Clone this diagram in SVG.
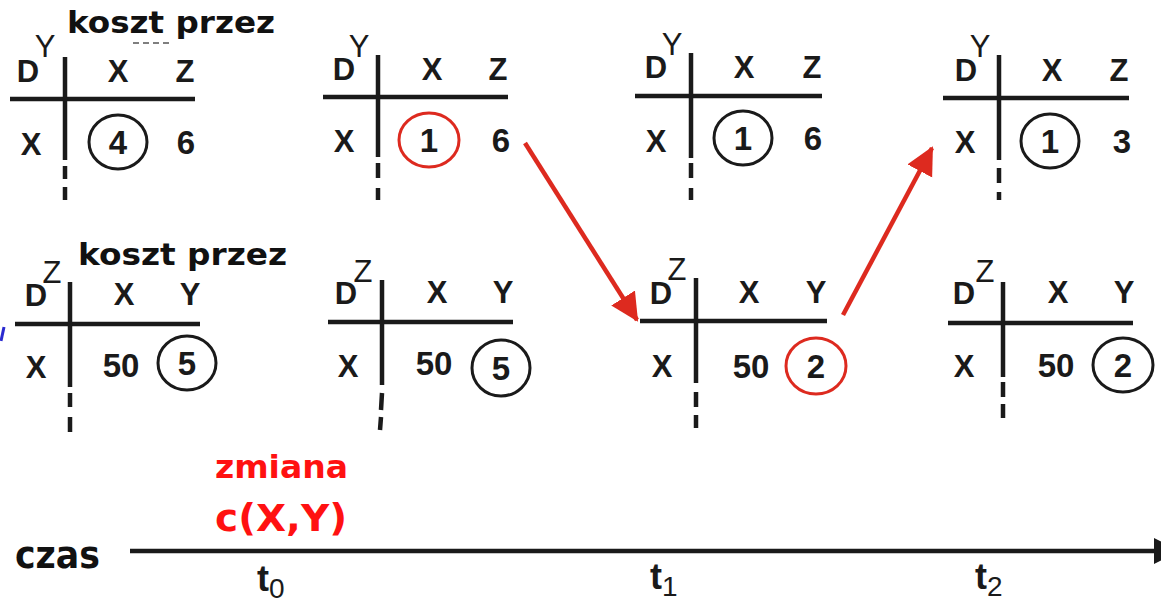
<svg xmlns="http://www.w3.org/2000/svg" width="1161" height="604" viewBox="0 0 1161 604">
<style>
.t{font-family:"Liberation Sans",Arial,sans-serif;font-weight:bold;font-size:31px;fill:#1a1a1a;text-anchor:middle}
.sup{font-family:"Liberation Sans",Arial,sans-serif;font-size:31px;fill:#1a1a1a;text-anchor:middle}
.n{font-family:"Liberation Sans",Arial,sans-serif;font-weight:bold;font-size:33px;fill:#1a1a1a;text-anchor:middle}
.c{font-family:"DejaVu Sans","Liberation Sans",sans-serif;font-weight:bold;fill:#111}
.r{fill:#ff1111}
.ln{stroke:#1a1a1a;stroke-width:4.5;fill:none}
.ds{stroke:#1a1a1a;stroke-width:4.5;fill:none}
.ci{fill:none;stroke:#1a1a1a;stroke-width:3}
.cr{fill:none;stroke:#dd2a1f;stroke-width:3}
.ar{stroke:#dd2a1f;stroke-width:4.5;fill:none}
.tt{font-family:"Liberation Sans",Arial,sans-serif;font-weight:bold;font-size:36px;fill:#1a1a1a}
.sb{font-weight:normal;font-size:28px}
</style>
<defs>
<marker id="rh" markerUnits="userSpaceOnUse" markerWidth="30" markerHeight="30" refX="26" refY="14" orient="auto">
<path d="M0,0 L28,14 L0,28 Z" fill="#dd2a1f"/>
</marker>
</defs>

<g id="table-y-t0">
<text class="c" x="67" y="33" font-size="31" textLength="208" lengthAdjust="spacingAndGlyphs">koszt przez</text>
<line x1="133" y1="43" x2="172" y2="43" stroke="#555" stroke-width="1.5" stroke-dasharray="6 4"/>
<text class="t" x="28" y="82">D</text><text class="sup" x="45" y="57">Y</text>
<line class="ln" x1="10" y1="99" x2="195" y2="99"/>
<path class="ds" d="M65,57 V160 M65,166 V179 M65,187 V200"/>
<text class="t" x="118" y="82">X</text><text class="t" x="185" y="82">Z</text>
<text class="t" x="31" y="155">X</text>
<ellipse class="ci" cx="118" cy="142" rx="29" ry="27"/>
<text class="n" x="118" y="154">4</text><text class="n" x="186" y="154">6</text>
</g>

<g id="table-y-a">
<text class="t" x="344" y="80">D</text><text class="sup" x="359" y="57">Y</text>
<line class="ln" x1="323" y1="97" x2="508" y2="97"/>
<path class="ds" d="M378,55 V157 M378,163 V178 M378,188 V200"/>
<text class="t" x="432" y="80">X</text><text class="t" x="498" y="80">Z</text>
<text class="t" x="344" y="152">X</text>
<ellipse class="cr" cx="429" cy="140" rx="30" ry="27"/>
<text class="n" x="429" y="152">1</text><text class="n" x="501" y="152">6</text>
</g>

<g id="table-y-t1">
<text class="t" x="656" y="78">D</text><text class="sup" x="672" y="55">Y</text>
<line class="ln" x1="635" y1="96" x2="822" y2="96"/>
<path class="ds" d="M691,53 V158 M691,163 V178 M691,188 V200"/>
<text class="t" x="744" y="78">X</text><text class="t" x="812" y="78">Z</text>
<text class="t" x="656" y="152">X</text>
<ellipse class="ci" cx="743" cy="138" rx="29" ry="27"/>
<text class="n" x="743" y="150">1</text><text class="n" x="813" y="150">6</text>
</g>

<g id="table-y-t2">
<text class="t" x="966" y="81">D</text><text class="sup" x="980" y="57">Y</text>
<line class="ln" x1="943" y1="98" x2="1129" y2="98"/>
<path class="ds" d="M999,55 V160 M999,168 V183 M999,192 V200"/>
<text class="t" x="1052" y="81">X</text><text class="t" x="1119" y="81">Z</text>
<text class="t" x="965" y="153">X</text>
<ellipse class="ci" cx="1050" cy="141" rx="29" ry="27"/>
<text class="n" x="1050" y="153">1</text><text class="n" x="1122" y="153">3</text>
</g>

<g id="table-z-t0">
<text class="c" x="78" y="265" font-size="31" textLength="209" lengthAdjust="spacingAndGlyphs">koszt przez</text>
<text class="t" x="36" y="306">D</text><text class="sup" x="52" y="283">Z</text>
<line class="ln" x1="15" y1="324" x2="200" y2="324"/>
<path class="ds" d="M70,282 V387 M70,393 V407 M70,417 V432"/>
<text class="t" x="124" y="305">X</text><text class="t" x="190" y="305">Y</text>
<text class="t" x="36" y="378">X</text>
<text class="n" x="121" y="377">50</text>
<ellipse class="ci" cx="187" cy="363" rx="29" ry="27"/>
<text class="n" x="187" y="375">5</text>
</g>

<g id="table-z-a">
<text class="t" x="346" y="304">D</text><text class="sup" x="363" y="282">Z</text>
<line class="ln" x1="328" y1="322" x2="513" y2="322"/>
<path class="ds" d="M382,280 V385 M382,393 L381,410 M381,417 L380,430"/>
<text class="t" x="437" y="303">X</text><text class="t" x="503" y="303">Y</text>
<text class="t" x="348" y="377">X</text>
<text class="n" x="434" y="375">50</text>
<ellipse class="ci" cx="501" cy="368" rx="29" ry="28"/>
<text class="n" x="501" y="380">5</text>
</g>

<g id="table-z-t1">
<text class="t" x="661" y="304">D</text><text class="sup" x="677" y="280">Z</text>
<line class="ln" x1="640" y1="321" x2="827" y2="321"/>
<path class="ds" d="M696,278 V383 M696,392 V407 M696,415 V428"/>
<text class="t" x="749" y="303">X</text><text class="t" x="816" y="303">Y</text>
<text class="t" x="662" y="377">X</text>
<text class="n" x="751" y="378">50</text>
<ellipse class="cr" cx="816" cy="366" rx="30" ry="28"/>
<text class="n" x="816" y="378">2</text>
</g>

<g id="table-z-t2">
<text class="t" x="964" y="304">D</text><text class="sup" x="985" y="282">Z</text>
<line class="ln" x1="948" y1="323" x2="1133" y2="323"/>
<path class="ds" d="M1003,282 V377 M1003,382 V397 M1003,404 V418"/>
<text class="t" x="1058" y="303">X</text><text class="t" x="1124" y="303">Y</text>
<text class="t" x="964" y="377">X</text>
<text class="n" x="1056" y="377">50</text>
<ellipse class="ci" cx="1123" cy="365" rx="30" ry="27"/>
<text class="n" x="1123" y="377">2</text>
</g>

<g id="connectors">
<line class="ar" x1="525" y1="143" x2="637" y2="320" marker-end="url(#rh)"/>
<line class="ar" x1="843" y1="315" x2="932" y2="148" marker-end="url(#rh)"/>
</g>

<g id="timeline">
<text class="c" x="15" y="568" font-size="37" textLength="85" lengthAdjust="spacingAndGlyphs">czas</text>
<line class="ln" x1="130" y1="551" x2="1156" y2="551"/>
<polygon points="1154,538 1180,551 1154,564" fill="#1a1a1a"/>
<text class="c r" x="215" y="478" font-size="32" textLength="133" lengthAdjust="spacingAndGlyphs">zmiana</text>
<text class="c r" x="215" y="531" font-size="37" textLength="132" lengthAdjust="spacingAndGlyphs">c(X,Y)</text>
<text class="tt" x="257" y="591">t<tspan class="sb" dy="7">0</tspan></text>
<text class="tt" x="650" y="589">t<tspan class="sb" dy="7">1</tspan></text>
<text class="tt" x="975" y="589">t<tspan class="sb" dy="7">2</tspan></text>
</g>
<line x1="4" y1="327" x2="1" y2="341" stroke="#2a2ad0" stroke-width="3"/>
</svg>
